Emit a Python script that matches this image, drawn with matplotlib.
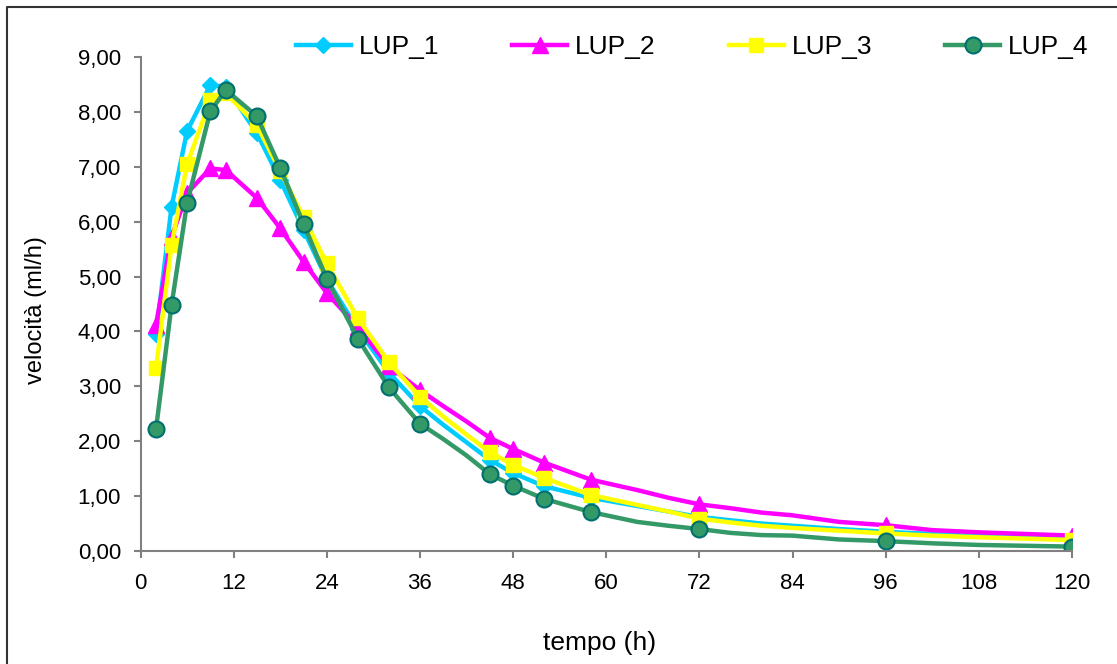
import numpy as np
import matplotlib.pyplot as plt
from matplotlib import font_manager
from matplotlib.lines import Line2D
from matplotlib.ticker import FuncFormatter

# tempi delle misure (h) - la linea passa per tutti, i marker solo per alcuni
tempo = [2, 4, 6, 9, 11, 15, 18, 21, 24, 28, 32, 36, 39, 42, 45, 48, 52, 58,
         64, 68, 72, 76, 80, 84, 90, 96, 102, 108, 120]
tempi_marker = [2, 4, 6, 9, 11, 15, 18, 21, 24, 28, 32, 36, 45, 48, 52, 58, 72, 96, 120]

lup_1 = [3.95, 6.27, 7.65, 8.49, 8.46, 7.61, 6.76, 5.85, 4.95, 4.04, 3.25, 2.64, 2.30, 1.98,
         1.66, 1.42, 1.18, 0.97, 0.82, 0.72, 0.62, 0.56, 0.50, 0.46, 0.40, 0.35, 0.31, 0.28, 0.23]
lup_2 = [4.12, 5.72, 6.52, 6.97, 6.94, 6.43, 5.88, 5.27, 4.70, 4.08, 3.37, 2.93, 2.64, 2.36,
         2.06, 1.86, 1.61, 1.30, 1.11, 0.97, 0.85, 0.78, 0.70, 0.65, 0.53, 0.47, 0.38, 0.34, 0.28]
lup_3 = [3.33, 5.57, 7.05, 8.21, 8.34, 7.76, 6.92, 6.08, 5.24, 4.24, 3.44, 2.81, 2.45, 2.12,
         1.80, 1.57, 1.33, 1.02, 0.84, 0.72, 0.59, 0.52, 0.46, 0.42, 0.37, 0.32, 0.28, 0.25, 0.20]
lup_4 = [2.22, 4.48, 6.34, 8.01, 8.40, 7.92, 6.98, 5.96, 4.96, 3.87, 2.98, 2.32, 2.04, 1.74,
         1.40, 1.19, 0.95, 0.71, 0.53, 0.46, 0.40, 0.33, 0.29, 0.28, 0.21, 0.18, 0.14, 0.11, 0.08]

nomi = ['LUP_1', 'LUP_2', 'LUP_3', 'LUP_4']

# font
nomi_font = {f.name for f in font_manager.fontManager.ttflist}
font_leg = 'Liberation Sans Narrow' if 'Liberation Sans Narrow' in nomi_font else 'Liberation Sans'
plt.rcParams['font.family'] = ['Liberation Sans', 'DejaVu Sans']

marker_idx = [tempo.index(t) for t in tempi_marker]

fig = plt.figure(figsize=(11.17, 6.64), dpi=100)
ax = fig.add_axes([140.5 / 1117, 1 - 551 / 664, (1072 - 140.5) / 1117, (551 - 57) / 664])

stili = [
    dict(color='#00CCFF', marker='D', markersize=8.5, markerfacecolor='#00CCFF', markeredgecolor='#00CCFF'),
    dict(color='#FF00FF', marker='^', markersize=12, markerfacecolor='#FF00FF', markeredgecolor='#FF00FF'),
    dict(color='#FFFF00', marker='s', markersize=10.5, markerfacecolor='#FFFF00', markeredgecolor='#FFFF00'),
    dict(color='#339966', marker='o', markersize=11.5, markerfacecolor='#339966', markeredgecolor='#006F6F',
         markeredgewidth=1.5),
]
for serie, nome, st in zip([lup_1, lup_2, lup_3, lup_4], nomi, stili):
    ax.plot(tempo, serie, lw=3.2, label=nome, markevery=marker_idx, **st)

ax.set_xlim(0, 120)
ax.set_ylim(0, 9)
ax.set_xticks(np.arange(0, 121, 12))
ax.set_yticks(np.arange(0, 9.1, 1))
ax.yaxis.set_major_formatter(FuncFormatter(lambda v, p: f'{v:.2f}'.replace('.', ',')))

for s in ['top', 'right']:
    ax.spines[s].set_visible(False)
for s in ['left', 'bottom']:
    ax.spines[s].set_color('#808080')
    ax.spines[s].set_linewidth(1.5)
ax.tick_params(axis='both', direction='out', length=5, width=1.5, color='#808080', labelsize=16)
ax.tick_params(axis='x', pad=11)
ax.tick_params(axis='y', pad=9)

ax.set_xlabel('tempo (h)', fontsize=19)
ax.set_ylabel('velocità (ml/h)', fontsize=17)
ax.xaxis.set_label_coords(0.493, -0.162)
ax.yaxis.set_label_coords(-0.100, 0.488)

leg = ax.legend(ncol=4, frameon=False, loc='center left',
                bbox_to_anchor=(296 / 1117, 1 - 47 / 664), bbox_transform=fig.transFigure,
                borderpad=0, borderaxespad=0, handlelength=2.08, handletextpad=0.3,
                columnspacing=2.77, numpoints=1, prop={'family': font_leg, 'size': 19})

# cornice esterna (tagliata a destra e in basso)
fig.add_artist(Line2D([6.5 / 1117, 6.5 / 1117, 1], [0, 1 - 6.5 / 664, 1 - 6.5 / 664],
                      transform=fig.transFigure, color='#333333', lw=1.5))

fig.savefig('out.png', dpi=100)
